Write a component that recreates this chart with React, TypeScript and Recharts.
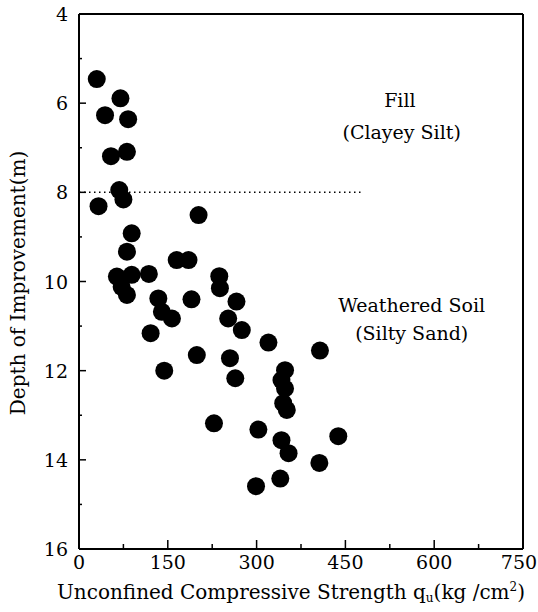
import React from "react";
import {
  ScatterChart,
  Scatter,
  XAxis,
  YAxis,
  ReferenceLine,
  ReferenceDot,
  Label,
} from "recharts";

// unconfined compressive strength qu (kg/cm2)
const strength = [
  30, 70, 44, 83, 54, 81, 68, 75, 33, 202, 89, 81, 165, 185, 64, 89, 118, 237,
  72, 81, 134, 140, 157, 190, 238, 266, 252, 275, 121, 320, 407, 199, 255, 144,
  264, 348, 342, 348, 345, 351, 228, 303, 438, 342, 354, 406, 340, 299,
];
// depth of improvement (m)
const depth = [
  5.46, 5.89, 6.27, 6.36, 7.19, 7.09, 7.95, 8.16, 8.31, 8.51, 8.92, 9.33, 9.52,
  9.52, 9.89, 9.85, 9.83, 9.88, 10.12, 10.3, 10.38, 10.68, 10.83, 10.4, 10.15,
  10.45, 10.83, 11.09, 11.16, 11.37, 11.55, 11.65, 11.72, 12.0, 12.17, 11.99,
  12.21, 12.4, 12.73, 12.88, 13.18, 13.32, 13.47, 13.56, 13.85, 14.07, 14.42,
  14.59,
];

const xTicks = [0, 75, 150, 225, 300, 375, 450, 525, 600, 675, 750];
const xLabels = [0, 150, 300, 450, 600, 750];
const yTicks = [4, 5, 6, 7, 8, 9, 10, 11, 12, 13, 14, 15, 16];
const yLabels = [4, 6, 8, 10, 12, 14, 16];

const data = strength.map((s, i) => ({ qu: s, depth: depth[i] }));

const FONT = "'DejaVu Serif', serif";
const INK = "#000";

const XTick = (props: any) => {
  const { x, y, payload } = props;
  const major = xLabels.includes(payload.value);
  // last label sits right at the page edge, nudge it in a bit
  const lx = payload.value === 750 ? x - 4 : x;
  return (
    <g>
      <line x1={x} x2={x} y1={y} y2={y - (major ? 9 : 5)} stroke={INK} strokeWidth={1.5} />
      {major && (
        <text x={lx} y={y + 20} textAnchor="middle" fontFamily={FONT} fontSize={19} fill={INK}>
          {payload.value}
        </text>
      )}
    </g>
  );
};

const YTick = (props: any) => {
  const { x, y, payload } = props;
  const major = yLabels.includes(payload.value);
  return (
    <g>
      <line x1={x} x2={x + (major ? 7 : 3)} y1={y} y2={y} stroke={INK} strokeWidth={1.5} />
      {major && (
        <text x={x - 11} y={y + 7} textAnchor="end" fontFamily={FONT} fontSize={19} fill={INK}>
          {payload.value}
        </text>
      )}
    </g>
  );
};

const Dot = (props: any) => <circle cx={props.cx} cy={props.cy} r={9} fill="#000" />;

const note = (text: string) => (props: any) => {
  const vb = props.viewBox;
  return (
    <text x={vb.cx ?? vb.x} y={vb.cy ?? vb.y} textAnchor="middle" dominantBaseline="central" fontFamily={FONT} fontSize={19} fill={INK}>
      {text}
    </text>
  );
};

export default function App() {
  return (
    <div style={{ position: "absolute", left: 0, top: 0, background: "#fff" }}>
      <ScatterChart width={538} height={612} margin={{ top: 14, right: 15, bottom: 23, left: 19 }}>
        <XAxis
          type="number"
          dataKey="qu"
          domain={[0, 750]}
          ticks={xTicks}
          interval={0}
          height={40}
          tickSize={0}
          tickMargin={0}
          tickLine={false}
          axisLine={{ stroke: INK, strokeWidth: 2 }}
          tick={<XTick />}
        >
          <Label
            content={() => (
              <text x={291} y={599} textAnchor="middle" fontFamily={FONT} fontSize={20} fill={INK}>
                Unconfined Compressive Strength q
                <tspan dy={3} fontSize={12}>u</tspan>
                <tspan dy={-3}>(kg /cm</tspan>
                <tspan dy={-8} fontSize={12}>2</tspan>
                <tspan dy={8}>)</tspan>
              </text>
            )}
          />
        </XAxis>
        <YAxis
          type="number"
          dataKey="depth"
          domain={[4, 16]}
          reversed
          ticks={yTicks}
          interval={0}
          width={60}
          tickSize={0}
          tickMargin={0}
          tickLine={false}
          axisLine={{ stroke: INK, strokeWidth: 2 }}
          tick={<YTick />}
        >
          <Label
            content={() => (
              <text
                x={18}
                y={283}
                transform="rotate(-90 18 283)"
                textAnchor="middle"
                dominantBaseline="central"
                fontFamily={FONT}
                fontSize={20}
                fill={INK}
              >
                Depth of Improvement(m)
              </text>
            )}
          />
        </YAxis>
        <ReferenceLine y={4} stroke={INK} strokeWidth={2} />
        <ReferenceLine x={750} stroke={INK} strokeWidth={2} />
        <ReferenceLine
          segment={[
            { x: 0, y: 8 },
            { x: 480, y: 8 },
          ]}
          stroke={INK}
          strokeWidth={1.5}
          strokeDasharray="1.5 3.5"
        />
        <ReferenceDot x={542} y={5.93} r={0} stroke="none" label={{ content: note("Fill") }} />
        <ReferenceDot x={545} y={6.64} r={0} stroke="none" label={{ content: note("(Clayey Silt)") }} />
        <ReferenceDot x={562} y={10.53} r={0} stroke="none" label={{ content: note("Weathered Soil") }} />
        <ReferenceDot x={562} y={11.16} r={0} stroke="none" label={{ content: note("(Silty Sand)") }} />
        <Scatter data={data} shape={<Dot />} isAnimationActive={false} />
      </ScatterChart>
    </div>
  );
}
